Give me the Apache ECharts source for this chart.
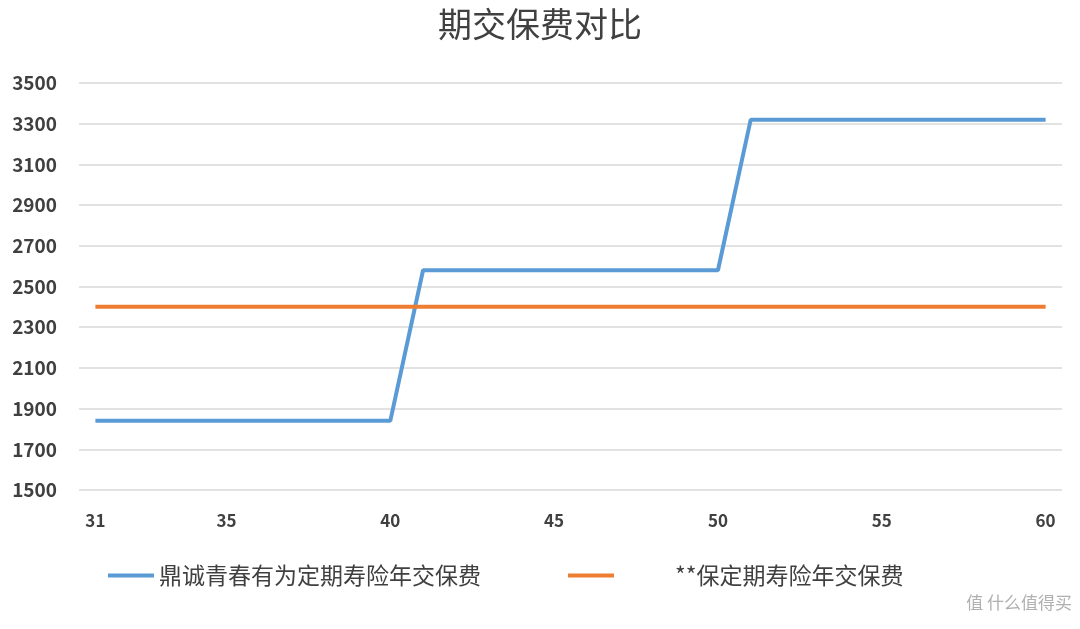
<!DOCTYPE html>
<html><head><meta charset="utf-8">
<script src="https://cdn.jsdelivr.net/npm/echarts@6/dist/echarts.min.js"></script>
<style>html,body{margin:0;padding:0;background:#fff}#c{width:1080px;height:629px}</style>
</head><body><div id="c"></div>
<script>
var ages = [];
for (var a = 31; a <= 60; a++) ages.push(String(a));
var shownLabels = ['31','35','40','45','50','55','60'];
var seriesA = [1840,1840,1840,1840,1840,1840,1840,1840,1840,1840,
               2580,2580,2580,2580,2580,2580,2580,2580,2580,2580,
               3320,3320,3320,3320,3320,3320,3320,3320,3320,3320];
var seriesB = [2400,2400,2400,2400,2400,2400,2400,2400,2400,2400,
               2400,2400,2400,2400,2400,2400,2400,2400,2400,2400,
               2400,2400,2400,2400,2400,2400,2400,2400,2400,2400];
var nameA = '鼎诚青春有为定期寿险年交保费';
var nameB = '**保定期寿险年交保费';

var chart = echarts.init(document.getElementById('c'));
var font = '"Noto Sans CJK SC", "Noto Sans", sans-serif';
chart.setOption({
  animation: false,
  title: {text: '期交保费对比', left: 'center', top: 2,
    textStyle: {fontFamily: font, fontSize: 34, fontWeight: 'normal', color: '#404040'}},
  legend: [{
    data: [nameA], left: 103, top: 559, icon: 'rect', itemWidth: 46, itemHeight: 4, itemGap: 6,
    textStyle: {fontFamily: font, fontSize: 23, color: '#404040'}
  }, {
    data: [nameB], left: 563, top: 559, icon: 'rect', itemWidth: 46, itemHeight: 4,
    formatter: function (n) { return '{p|}' + n; },
    textStyle: {fontFamily: font, fontSize: 23, color: '#404040', rich: {p: {width: 56}}}
  }],
  grid: {left: 79, right: 18, top: 83, bottom: 139},
  xAxis: {
    type: 'category', data: ages, boundaryGap: true,
    axisLine: {show: false}, axisTick: {show: false},
    axisLabel: {
      interval: function (i, v) { return shownLabels.indexOf(v) >= 0; },
      margin: 22, fontFamily: font, fontSize: 17, fontWeight: 'bold', color: '#404040'
    }
  },
  yAxis: {
    type: 'value', min: 1500, max: 3500, interval: 200,
    axisLine: {show: false}, axisTick: {show: false},
    splitLine: {lineStyle: {color: '#d9d9d9', width: 1.5}},
    axisLabel: {margin: 22, fontFamily: font, fontSize: 19, fontWeight: 'bold', color: '#404040',
      formatter: function (v) { return String(v); }}
  },
  series: [
    {name: nameA, type: 'line', data: seriesA, symbol: 'none',
     lineStyle: {color: '#5B9BD5', width: 4}, itemStyle: {color: '#5B9BD5'}},
    {name: nameB, type: 'line', data: seriesB, symbol: 'none',
     lineStyle: {color: '#ED7D31', width: 4}, itemStyle: {color: '#ED7D31'}}
  ],
  graphic: [{
    type: 'text', right: 8, top: 594,
    style: {text: '值 什么值得买', fontFamily: font, fontSize: 17, fill: '#b0b0b0'}
  }]
});
</script></body></html>
